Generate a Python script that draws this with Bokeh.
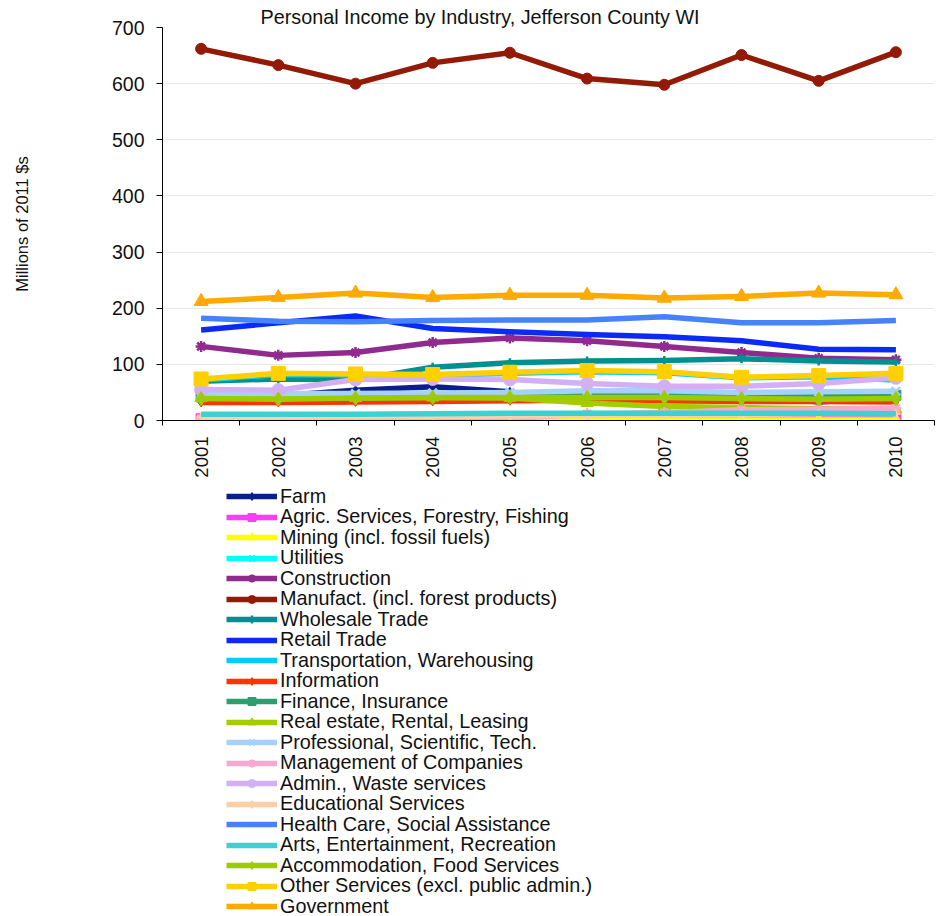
import math
from bokeh.plotting import figure
from bokeh.layouts import column
from bokeh.models import FixedTicker, Legend, LegendItem
from bokeh.embed import file_html
from bokeh.resources import INLINE

# ---------------- data ----------------
years = [2001, 2002, 2003, 2004, 2005, 2006, 2007, 2008, 2009, 2010]
year_labels = ["2001", "2002", "2003", "2004", "2005", "2006", "2007", "2008", "2009", "2010"]
y_ticks = [0, 100, 200, 300, 400, 500, 600, 700]

farm = [40, 44, 54, 60, 51, 48, 47, 46, 33, 42]
agric = [3, 3, 3, 3, 3, 4, 4, 4, 4, 4]
mining = [1, 1, 1, 1, 1, 1, 1, 1, 1, 1]
utilities = [38, 38, 38, 39, 39, 40, 40, 40, 40, 40]
construction = [132, 116, 121, 139, 147, 142, 132, 121, 111, 108]
manufact = [662, 633, 600, 637, 655, 609, 598, 651, 605, 656]
wholesale = [70, 74, 72, 95, 103, 106, 107, 110, 106, 104]
retail = [161, 174, 186, 164, 158, 153, 149, 142, 127, 126]
transport = [72, 82, 81, 80, 84, 87, 85, 76, 78, 72]
information = [32, 32, 33, 34, 35, 36, 35, 34, 34, 33]
finance = [42, 42, 43, 44, 45, 46, 46, 45, 44, 45]
real_estate = [40, 40, 40, 41, 40, 31, 25, 23, 21, 20]
professional = [48, 48, 48, 49, 50, 53, 53, 50, 51, 52]
management = [3, 3, 3, 3, 3, 12, 14, 19, 20, 22]
admin = [55, 54, 73, 74, 73, 66, 61, 61, 66, 76]
educational = [6, 6, 7, 7, 8, 9, 10, 11, 12, 12]
health = [182, 177, 176, 178, 179, 179, 185, 174, 174, 178]
arts = [11, 11, 11, 12, 13, 13, 13, 13, 13, 12]
accommodation = [39, 38, 40, 41, 41, 41, 41, 39, 38, 39]
other_services = [74, 84, 83, 82, 86, 89, 87, 77, 80, 84]
government = [212, 219, 227, 219, 223, 223, 218, 221, 227, 224]

series_names = [
    "Farm", "Agric. Services, Forestry, Fishing", "Mining (incl. fossil fuels)",
    "Utilities", "Construction", "Manufact. (incl. forest products)",
    "Wholesale Trade", "Retail Trade", "Transportation, Warehousing",
    "Information", "Finance, Insurance", "Real estate, Rental, Leasing",
    "Professional, Scientific, Tech.", "Management of Companies",
    "Admin., Waste services", "Educational Services",
    "Health Care, Social Assistance", "Arts, Entertainment, Recreation",
    "Accommodation, Food Services", "Other Services (excl. public admin.)",
    "Government",
]
series_values = [
    farm, agric, mining, utilities, construction, manufact, wholesale, retail,
    transport, information, finance, real_estate, professional, management,
    admin, educational, health, arts, accommodation, other_services, government,
]

# ---------------- styles ----------------
colors = [
    "#0B1E8C", "#FF3DF5", "#FFFF00", "#00FFFF", "#912A8E", "#931A07",
    "#009090", "#0A2AF5", "#00CCFF", "#FF3300", "#2E9E6E", "#A4CC00",
    "#A6D1FA", "#F7A8CE", "#D3B0F5", "#FBD0A8", "#4682F8", "#3CD2D2",
    "#9CCC00", "#FFD000", "#FFAA00",
]
markers = [
    ("diamond", 9), ("square", 10), ("triangle", 12), ("x", 10), ("asterisk", 11),
    ("circle", 11), ("cross", 9), (None, 0), (None, 0),
    ("diamond", 9), ("square", 10), ("triangle", 12), ("x", 12), ("asterisk", 11),
    ("circle", 13), ("cross", 9), (None, 0), (None, 0),
    ("diamond", 14), ("square", 14), ("triangle", 14),
]

FONT = "Liberation Sans"
TXT = "#111111"


def draw_series(fig, vals, col, mk, ms):
    rs = [fig.line(years, vals, line_color=col, line_width=5.5, line_join="round")]
    if mk is not None:
        if mk in ("x", "asterisk", "cross"):
            rs.append(fig.scatter(years, vals, marker=mk, size=ms, line_color=col, line_width=2.5))
        else:
            rs.append(fig.scatter(years, vals, marker=mk, size=ms, fill_color=col, line_color=col))
    return rs


# ---------------- main chart ----------------
p = figure(
    width=936, height=484,
    x_range=(2000.5, 2010.5), y_range=(0, 700),
    output_backend="svg", toolbar_location=None,
    min_border_left=162, min_border_right=2, min_border_top=27, min_border_bottom=64,
)
p.outline_line_color = None
p.background_fill_color = "white"
p.border_fill_color = "white"

p.title.text = "Personal Income by Industry, Jefferson County WI"
p.title.text_font = FONT
p.title.text_font_size = "19.8px"
p.title.text_font_style = "normal"
p.title.text_color = TXT
p.title.align = "left"
p.title.offset = 98
p.title.standoff = 0

xa = p.xaxis[0]
xa.ticker = FixedTicker(ticks=years, minor_ticks=[y - 0.5 for y in years] + [years[-1] + 0.5])
xa.major_label_overrides = {y: lab for y, lab in zip(years, year_labels)}
xa.major_tick_out = 0
xa.major_tick_in = 0
xa.minor_tick_out = 5
xa.minor_tick_in = 0
xa.minor_tick_line_color = "black"
xa.axis_line_color = "black"
xa.major_label_orientation = math.pi / 2
xa.major_label_standoff = 11
xa.major_label_text_font = FONT
xa.major_label_text_font_size = "18.5px"
xa.major_label_text_color = TXT

ya = p.yaxis[0]
ya.ticker = FixedTicker(ticks=y_ticks, minor_ticks=[])
ya.major_tick_out = 6
ya.major_tick_in = 0
ya.major_label_standoff = 12
ya.axis_line_color = "black"
ya.major_label_text_font = FONT
ya.major_label_text_font_size = "19.5px"
ya.major_label_text_color = TXT
ya.axis_label = "Millions of 2011 $s"
ya.axis_label_text_font = FONT
ya.axis_label_text_font_size = "16.5px"
ya.axis_label_text_font_style = "normal"
ya.axis_label_text_color = TXT
ya.axis_label_standoff = 78

p.xgrid.grid_line_color = None
p.ygrid.ticker = FixedTicker(ticks=y_ticks[1:])
p.ygrid.grid_line_color = "#e6e6e6"
p.ygrid.grid_line_width = 1

for vals, col, (mk, ms) in zip(series_values, colors, markers):
    draw_series(p, vals, col, mk, ms)

# ---------------- legend panel (below the chart) ----------------
LF_H = 432
ROW = 20.5        # spacing between legend rows, px
ITEM_H = 23       # height of one rendered legend row, px
FIRST_TOP = 0.5   # top of first row inside the legend panel, px

lf = figure(
    width=936, height=LF_H, x_range=(0, 1), y_range=(0, 1),
    output_backend="svg", toolbar_location=None, min_border=0,
)
lf.axis.visible = False
lf.grid.visible = False
lf.outline_line_color = None
lf.background_fill_color = "white"
lf.border_fill_color = "white"

for i, (name, vals, col, (mk, ms)) in enumerate(zip(series_names, series_values, colors, markers)):
    item = LegendItem(label=name, renderers=draw_series(lf, vals, col, mk, ms))
    top = FIRST_TOP + ROW * i
    leg = Legend(
        items=[item], location=(64, LF_H - top - ITEM_H), orientation="vertical",
        margin=0, padding=0, spacing=0,
        glyph_width=51, glyph_height=20, label_height=20, label_standoff=3,
        label_text_font=FONT, label_text_font_size="19.8px", label_text_color=TXT,
        border_line_color=None, background_fill_alpha=0,
    )
    lf.add_layout(leg, "center")

open("out.html", "w").write(file_html(column(p, lf, spacing=0), INLINE))
